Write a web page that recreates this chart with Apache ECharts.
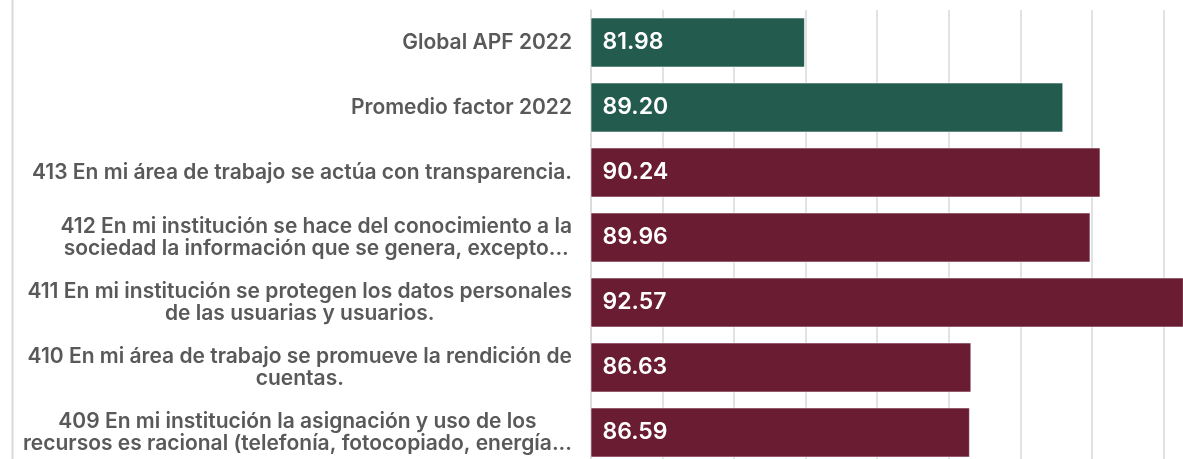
<!DOCTYPE html>
<html>
<head>
<meta charset="utf-8">
<script src="https://cdn.jsdelivr.net/npm/echarts@6/dist/echarts.min.js"></script>
<style>
  html, body { margin: 0; padding: 0; background: #ffffff; }
  #chart { width: 1183px; height: 459px; }
</style>
</head>
<body>
<div id="chart"></div>
<script>
const categories = [
  "Global APF 2022",
  "Promedio factor 2022",
  "413 En mi área de trabajo se actúa con transparencia.",
  "412 En mi institución se hace del conocimiento a la\nsociedad la información que se genera, excepto...",
  "411 En mi institución se protegen los datos personales\nde las usuarias y usuarios.",
  "410 En mi área de trabajo se promueve la rendición de\ncuentas.",
  "409 En mi institución la asignación y uso de los\nrecursos es racional (telefonía, fotocopiado, energía..."
];
const values = [81.98, 89.20, 90.24, 89.96, 92.57, 86.63, 86.59];
const summaryCount = 2;

const GREEN = '#235B4E';
const MAROON = '#691C32';
const TEXT = '#595959';
const GRID = '#d9d9d9';
const FONT = 'Inter, "Open Sans", sans-serif';

const chart = echarts.init(document.getElementById('chart'), null, { renderer: 'canvas' });
chart.setOption({
  backgroundColor: '#ffffff',
  animation: false,
  graphic: [{
    type: 'line',
    shape: { x1: 12.5, y1: 0, x2: 12.5, y2: 459 },
    style: { stroke: GRID, lineWidth: 2 },
    silent: true
  }],
  grid: { left: 591, right: -52, top: 10, bottom: -6, containLabel: false, outerBoundsMode: 'none' },
  xAxis: {
    type: 'value',
    min: 76, max: 94, interval: 2,
    axisLine: { show: false },
    axisTick: { show: false },
    axisLabel: { show: false },
    splitLine: { show: true, lineStyle: { color: GRID, width: 1.5 } }
  },
  yAxis: {
    type: 'category',
    inverse: true,
    data: categories,
    axisLine: { show: true, lineStyle: { color: GRID, width: 1.5 } },
    axisTick: { show: false },
    axisLabel: {
      margin: 19,
      align: 'right',
      fontFamily: FONT,
      fontSize: 21,
      fontWeight: 600,
      color: TEXT,
      lineHeight: 22,
      formatter: v => v.split('\n').map(l => '{c|' + l + '}').join('\n'),
      rich: {
        c: { align: 'center', fontFamily: FONT, fontSize: 21, fontWeight: 600, color: TEXT, lineHeight: 22 }
      }
    }
  },
  series: [{
    type: 'bar',
    data: values,
    barWidth: 50,
    itemStyle: {
      color: p => p.dataIndex < summaryCount ? GREEN : MAROON,
      borderColor: 'rgba(255,255,255,0.55)',
      borderWidth: 1
    },
    label: {
      show: true,
      position: 'insideLeft',
      distance: 12,
      color: '#ffffff',
      fontFamily: FONT,
      fontSize: 23,
      fontWeight: 600,
      formatter: p => p.value.toFixed(2)
    }
  }]
});
</script>
</body>
</html>
